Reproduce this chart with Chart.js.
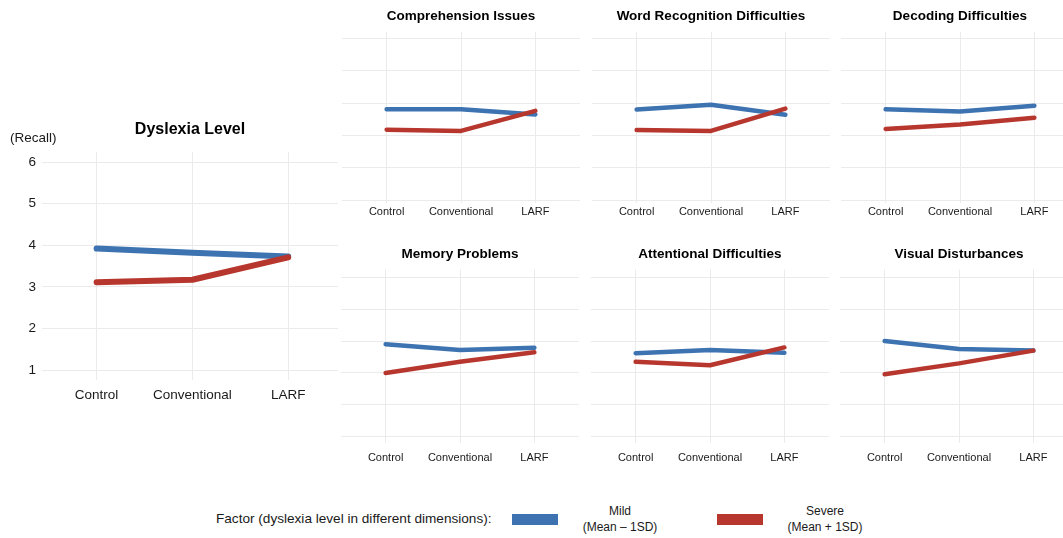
<!DOCTYPE html>
<html>
<head>
<meta charset="utf-8">
<script src="https://cdn.jsdelivr.net/npm/chart.js@4.4.1/dist/chart.umd.min.js"></script>
<style>
  html, body { margin: 0; padding: 0; background: #fff; }
  body { width: 1063px; height: 538px; overflow: hidden; position: relative;
         font-family: "Liberation Sans", Arial, Helvetica, sans-serif; color: #1a1a1a; }
  canvas { position: absolute; }
  .txt { position: absolute; white-space: nowrap; }
  .swatch { position: absolute; width: 46px; height: 11px; }
  .lg { position: absolute; font-size: 12px; text-align: center; line-height: 16px; }
</style>
</head>
<body>
<canvas id="main" width="338" height="300" style="left:0;top:110px"></canvas>
<canvas id="p1" width="238" height="230" style="left:342px;top:0"></canvas>
<canvas id="p2" width="238" height="230" style="left:592px;top:0"></canvas>
<canvas id="p3" width="238" height="230" style="left:841px;top:0"></canvas>
<canvas id="p4" width="238" height="238" style="left:341px;top:230px"></canvas>
<canvas id="p5" width="238" height="238" style="left:591px;top:230px"></canvas>
<canvas id="p6" width="238" height="238" style="left:840px;top:230px"></canvas>

<div class="txt" style="left:10px;top:130px;font-size:13.5px">(Recall)</div>

<div class="txt" style="left:216px;top:511px;font-size:13.6px">Factor (dyslexia level in different dimensions):</div>
<div class="swatch" style="left:512px;top:514px;background:#3d73b1"></div>
<div class="lg" style="left:570px;top:503px;width:100px">Mild<br>(Mean – 1SD)</div>
<div class="swatch" style="left:717px;top:514px;background:#b7372e"></div>
<div class="lg" style="left:775px;top:503px;width:100px">Severe<br>(Mean + 1SD)</div>

<script>
// categories and tick values
var conditions = ['Control', 'Conventional', 'LARF'];
var yTicks = [1, 2, 3, 4, 5, 6];
var seriesNames = ['Mild', 'Severe'];

// recall means per panel
var mildOverall = [3.92, 3.82, 3.73];
var severeOverall = [3.11, 3.17, 3.71];
var mildComprehension = [3.81, 3.81, 3.65];
var severeComprehension = [3.18, 3.14, 3.76];
var mildWord = [3.80, 3.95, 3.64];
var severeWord = [3.17, 3.14, 3.83];
var mildDecoding = [3.81, 3.74, 3.92];
var severeDecoding = [3.20, 3.34, 3.55];
var mildMemory = [3.90, 3.72, 3.79];
var severeMemory = [3.00, 3.35, 3.65];
var mildAttention = [3.62, 3.72, 3.63];
var severeAttention = [3.35, 3.24, 3.80];
var mildVisual = [4.00, 3.75, 3.70];
var severeVisual = [2.96, 3.30, 3.70];

var BLUE = '#3d73b1', RED = '#b7372e', GRID = '#ebebeb';
var FONT = '"Liberation Sans", Arial, Helvetica, sans-serif';

Chart.defaults.font.family = FONT;
Chart.defaults.color = '#1a1a1a';

function toPoints(values) {
    return values.map(function (v, i) { return { x: i, y: v }; });
}

function makePanel(id, title, mild, severe, o) {
    var ctx = document.getElementById(id);
    return new Chart(ctx, {
        type: 'line',
        data: {
            datasets: [
                { label: seriesNames[0], data: toPoints(mild), borderColor: BLUE, order: 1 },
                { label: seriesNames[1], data: toPoints(severe), borderColor: RED, order: 0 }
            ].map(function (d) {
                d.borderWidth = o.lineWidth;
                d.pointRadius = 0;
                d.tension = 0;
                d.borderCapStyle = 'round';
                d.borderJoinStyle = 'round';
                return d;
            })
        },
        options: {
            responsive: false,
            animation: false,
            layout: { padding: 0 },
            plugins: {
                legend: { display: false },
                tooltip: { enabled: false },
                title: {
                    display: true,
                    text: title,
                    fullSize: false,   // centre over the plot area, like the reference
                    font: { size: o.titleSize, weight: 'bold' },
                    color: '#000',
                    padding: { top: o.titleTop, bottom: o.titleBottom }
                }
            },
            scales: {
                x: {
                    type: 'linear',
                    min: o.xMin, max: o.xMax,
                    afterBuildTicks: function (s) {
                        s.ticks = conditions.map(function (c, i) { return { value: i }; });
                    },
                    afterFit: function (s) { s.height = o.xHeight; },
                    ticks: {
                        font: { size: o.tickSize },
                        padding: o.xPad,
                        maxRotation: 0,
                        callback: function (v) { return conditions[v]; }
                    },
                    grid: { color: GRID, drawTicks: false },
                    border: { display: false }
                },
                y: {
                    min: o.yMin, max: o.yMax,
                    afterBuildTicks: function (s) {
                        s.ticks = yTicks.map(function (v) { return { value: v }; });
                    },
                    afterFit: function (s) { s.width = o.yWidth; },
                    ticks: {
                        display: o.showY,
                        font: { size: o.tickSize },
                        padding: 6
                    },
                    grid: { color: GRID, drawTicks: false },
                    border: { display: false }
                }
            }
        }
    });
}

var mainOpts = { lineWidth: 6, titleSize: 16, titleTop: 10, titleBottom: 12.5,
    xMin: -0.57, xMax: 2.52, xHeight: 30, xPad: 7, tickSize: 13.5,
    yMin: 0.76, yMax: 6.25, yWidth: 42, showY: true };
var topOpts = { lineWidth: 4.5, titleSize: 13.5, titleTop: 8, titleBottom: 7.5,
    xMin: -0.6, xMax: 2.6, xHeight: 27, xPad: 2, tickSize: 11,
    yMin: 0.91, yMax: 6.21, yWidth: 0, showY: false };
var botOpts = { lineWidth: 4.5, titleSize: 13.5, titleTop: 16, titleBottom: 7.5,
    xMin: -0.6, xMax: 2.6, xHeight: 25, xPad: 8, tickSize: 11,
    yMin: 0.8, yMax: 6.24, yWidth: 0, showY: false };

makePanel('main', 'Dyslexia Level', mildOverall, severeOverall, mainOpts);
makePanel('p1', 'Comprehension Issues', mildComprehension, severeComprehension, topOpts);
makePanel('p2', 'Word Recognition Difficulties', mildWord, severeWord, topOpts);
makePanel('p3', 'Decoding Difficulties', mildDecoding, severeDecoding, topOpts);
makePanel('p4', 'Memory Problems', mildMemory, severeMemory, botOpts);
makePanel('p5', 'Attentional Difficulties', mildAttention, severeAttention, botOpts);
makePanel('p6', 'Visual Disturbances', mildVisual, severeVisual, botOpts);
</script>
</body>
</html>
